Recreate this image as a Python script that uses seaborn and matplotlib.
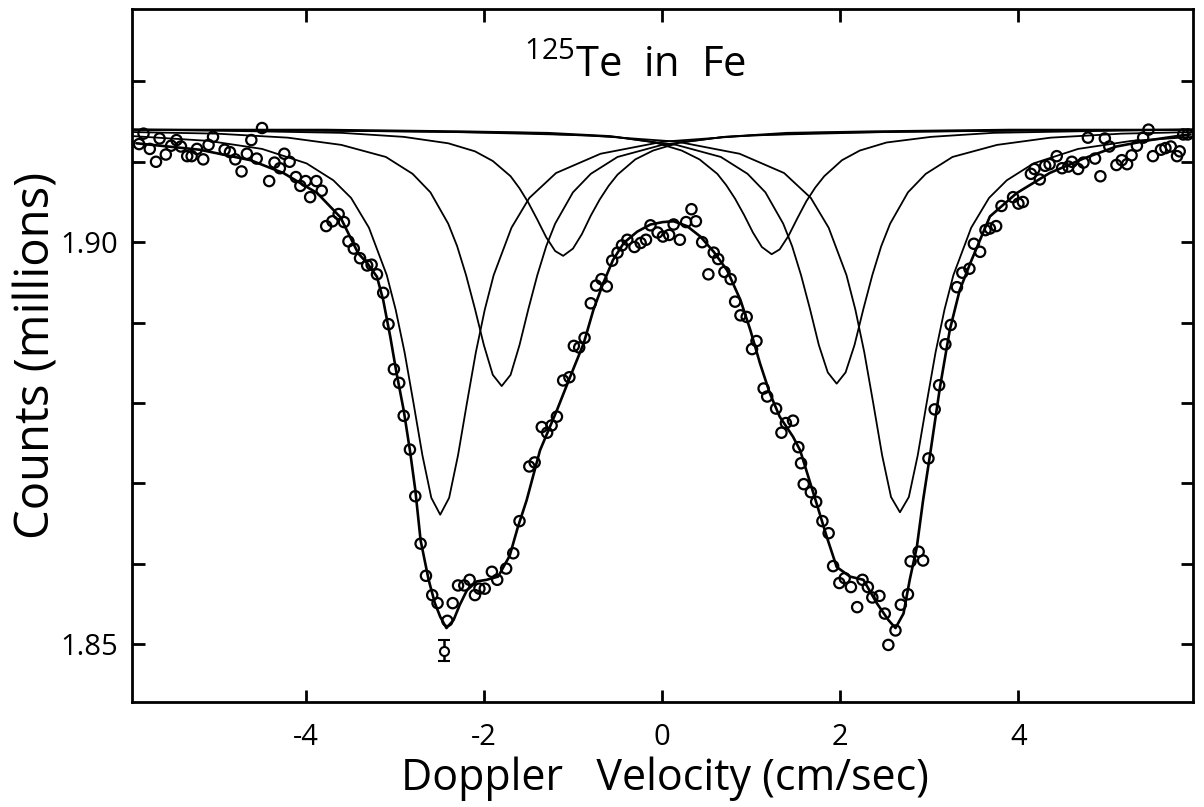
import numpy as np
import pandas as pd
import matplotlib
matplotlib.use("Agg")
import matplotlib.pyplot as plt
import seaborn as sns

# 125Te in Fe -- counts vs doppler velocity
# velocity in cm/sec, counts in millions

vel = [-5.87, -5.82, -5.75, -5.68, -5.64, -5.57, -5.51, -5.45, -5.40, -5.33,
       -5.28, -5.22, -5.15, -5.09, -5.04, -4.91, -4.85, -4.79, -4.72, -4.66,
       -4.61, -4.55, -4.49, -4.41, -4.35, -4.29, -4.24, -4.18, -4.11, -4.06,
       -4.00, -3.95, -3.88, -3.82, -3.77, -3.70, -3.63, -3.57, -3.52, -3.46,
       -3.39, -3.31, -3.26, -3.20, -3.13, -3.07, -3.01, -2.95, -2.90, -2.83,
       -2.77, -2.71, -2.65, -2.58, -2.52, -2.41, -2.35, -2.29, -2.22, -2.16,
       -2.10, -2.05, -1.99, -1.91, -1.85, -1.75, -1.67, -1.60,
       -1.49, -1.43, -1.35, -1.29, -1.24, -1.18, -1.11, -1.04, -0.99, -0.93,
       -0.87, -0.80, -0.74, -0.68, -0.62, -0.56, -0.50, -0.45, -0.39, -0.31,
       -0.24, -0.18, -0.13, -0.05, 0.01, 0.08, 0.13, 0.20, 0.27, 0.33,
       0.38, 0.45, 0.52, 0.58, 0.63, 0.70, 0.77, 0.82, 0.88, 0.95,
       1.01, 1.06, 1.14, 1.18, 1.28, 1.34, 1.39, 1.47, 1.53, 1.56,
       1.59, 1.67, 1.73, 1.80, 1.87, 1.92, 1.99, 2.05, 2.12, 2.19,
       2.25, 2.31, 2.36, 2.44, 2.50, 2.54, 2.62, 2.68, 2.76, 2.79,
       2.88, 2.93, 2.99, 3.06, 3.11, 3.18, 3.24, 3.31, 3.37, 3.45,
       3.50, 3.57, 3.63, 3.68, 3.75, 3.81, 3.94, 4.00, 4.05, 4.14,
       4.18, 4.24, 4.30, 4.35, 4.43, 4.49, 4.56, 4.60, 4.67, 4.73,
       4.78, 4.86, 4.92, 4.97, 5.02, 5.10, 5.16, 5.22, 5.27, 5.33,
       5.40, 5.46, 5.51, 5.60, 5.65, 5.71, 5.78, 5.81, 5.85, 5.90]
counts = [1.9122, 1.9135, 1.9116, 1.9100, 1.9129, 1.9109, 1.9120, 1.9127, 1.9119, 1.9107,
          1.9107, 1.9116, 1.9103, 1.9121, 1.9131, 1.9115, 1.9112, 1.9103, 1.9088, 1.9110,
          1.9127, 1.9104, 1.9142, 1.9076, 1.9099, 1.9092, 1.9110, 1.9100, 1.9081, 1.9070,
          1.9076, 1.9056, 1.9076, 1.9064, 1.9020, 1.9026, 1.9035, 1.9025, 1.9001, 1.8992,
          1.8980, 1.8971, 1.8972, 1.8960, 1.8937, 1.8898, 1.8842, 1.8825, 1.8784, 1.8742,
          1.8684, 1.8625, 1.8585, 1.8561, 1.8551, 1.8529, 1.8551, 1.8573, 1.8573, 1.8580,
          1.8561, 1.8569, 1.8569, 1.8590, 1.8580, 1.8594, 1.8613, 1.8653,
          1.8721, 1.8726, 1.8770, 1.8763, 1.8772, 1.8783, 1.8828, 1.8832, 1.8871, 1.8869,
          1.8881, 1.8924, 1.8946, 1.8954, 1.8945, 1.8977, 1.8987, 1.8996, 1.9003, 1.8994,
          1.8999, 1.9003, 1.9021, 1.9012, 1.9007, 1.9009, 1.9022, 1.9003, 1.9025, 1.9041,
          1.9026, 1.9000, 1.8960, 1.8987, 1.8979, 1.8963, 1.8954, 1.8926, 1.8909, 1.8907,
          1.8867, 1.8877, 1.8818, 1.8808, 1.8793, 1.8763, 1.8775, 1.8778, 1.8745, 1.8725,
          1.8699, 1.8689, 1.8677, 1.8653, 1.8638, 1.8597, 1.8576, 1.8582, 1.8571, 1.8546,
          1.8580, 1.8571, 1.8558, 1.8560, 1.8538, 1.8499, 1.8517, 1.8549, 1.8562, 1.8603,
          1.8615, 1.8604, 1.8731, 1.8792, 1.8822, 1.8873, 1.8897, 1.8944, 1.8962, 1.8967,
          1.8998, 1.8988, 1.9015, 1.9017, 1.9020, 1.9045, 1.9056, 1.9048, 1.9050, 1.9085,
          1.9091, 1.9078, 1.9095, 1.9097, 1.9107, 1.9092, 1.9094, 1.9100, 1.9091, 1.9099,
          1.9130, 1.9104, 1.9082, 1.9129, 1.9119, 1.9096, 1.9102, 1.9097, 1.9108, 1.9120,
          1.9130, 1.9140, 1.9107, 1.9115, 1.9117, 1.9119, 1.9107, 1.9113, 1.9134, 1.9134]

# the one point drawn with its error bar
err_vel = [-2.45]
err_counts = [1.8492]
err_size = [0.0013]

# full fit through the data
fit_vel = [-5.90, -5.19, -4.62, -4.25, -3.87, -3.61, -3.41, -3.31, -3.20, -3.13,
           -3.05, -2.98, -2.90, -2.83, -2.77, -2.71, -2.62, -2.55, -2.49, -2.42,
           -2.34, -2.27, -2.19, -2.08, -1.97, -1.84, -1.71, -1.62, -1.52, -1.37,
           -1.18, -1.03, -0.88, -0.77, -0.66, -0.55, -0.43, -0.28, -0.13, 0.01,
           0.13, 0.28, 0.43, 0.58, 0.73, 0.88, 0.99, 1.10, 1.21, 1.32,
           1.47, 1.55, 1.74, 1.85, 1.96, 2.11, 2.26, 2.41, 2.54, 2.62,
           2.71, 2.78, 2.86, 2.93, 3.01, 3.12, 3.23, 3.34, 3.46, 3.57,
           3.68, 3.98, 4.35, 4.73, 5.10, 5.48, 5.85, 5.93]
fit_counts = [1.9123, 1.9115, 1.9102, 1.9086, 1.9061, 1.9031, 1.8986, 1.8974, 1.8957, 1.8928,
              1.8882, 1.8837, 1.8791, 1.8741, 1.8692, 1.8629, 1.8580, 1.8551, 1.8534, 1.8520,
              1.8530, 1.8549, 1.8567, 1.8578, 1.8580, 1.8584, 1.8610, 1.8645, 1.8679, 1.8741,
              1.8791, 1.8833, 1.8874, 1.8916, 1.8949, 1.8978, 1.8999, 1.9013, 1.9022, 1.9025,
              1.9026, 1.9020, 1.9007, 1.8988, 1.8965, 1.8928, 1.8891, 1.8849, 1.8812, 1.8783,
              1.8758, 1.8741, 1.8673, 1.8633, 1.8596, 1.8584, 1.8580, 1.8551, 1.8530, 1.8520,
              1.8538, 1.8580, 1.8621, 1.8679, 1.8737, 1.8820, 1.8891, 1.8940, 1.8974, 1.9003,
              1.9032, 1.9061, 1.9086, 1.9104, 1.9119, 1.9127, 1.9133, 1.9134]

# six single-line components (inner, middle, outer; left and right)
l1_vel = [-5.95, -4.6, -3.6, -2.9, -2.4, -2.1, -1.9, -1.7, -1.6, -1.5, -1.4, -1.3, -1.2, -1.11,
          -1.0, -0.9, -0.8, -0.7, -0.6, -0.5, -0.3, -0.1, 0.2, 0.7, 1.4, 2.4, 3.9, 5.96]
l1_counts = [1.9140, 1.9138, 1.9136, 1.9131, 1.9123, 1.9113, 1.9101, 1.9082, 1.9067, 1.9049,
             1.9028, 1.9006, 1.8989, 1.8983, 1.8992, 1.9010, 1.9033, 1.9053, 1.9070, 1.9084,
             1.9103, 1.9114, 1.9124, 1.9131, 1.9136, 1.9138, 1.9140, 1.9140]
r1_vel = [5.96, 4.72, 3.72, 3.02, 2.52, 2.22, 2.02, 1.82, 1.72, 1.62, 1.52, 1.42, 1.32, 1.23,
          1.12, 1.02, 0.92, 0.82, 0.72, 0.62, 0.42, 0.22, -0.08, -0.58, -1.28, -2.28, -3.78, -5.95]
r1_counts = [1.9140, 1.9138, 1.9136, 1.9131, 1.9124, 1.9114, 1.9102, 1.9082, 1.9068, 1.9051,
             1.9030, 1.9008, 1.8991, 1.8985, 1.8994, 1.9012, 1.9034, 1.9054, 1.9071, 1.9085,
             1.9103, 1.9114, 1.9124, 1.9132, 1.9136, 1.9138, 1.9140, 1.9140]
l2_vel = [-5.95, -5.0, -4.2, -3.6, -3.1, -2.8, -2.6, -2.4, -2.3, -2.2, -2.1, -2.0, -1.9, -1.8,
          -1.7, -1.6, -1.5, -1.4, -1.3, -1.2, -1.0, -0.8, -0.5, 0.0, 0.7, 1.7, 3.2, 5.96]
l2_counts = [1.9137, 1.9135, 1.9130, 1.9121, 1.9106, 1.9085, 1.9062, 1.9023, 1.8995, 1.8959,
             1.8917, 1.8872, 1.8835, 1.8821, 1.8835, 1.8872, 1.8917, 1.8959, 1.8995, 1.9023,
             1.9062, 1.9085, 1.9106, 1.9121, 1.9131, 1.9136, 1.9138, 1.9140]
r2_vel = [5.96, 5.16, 4.36, 3.76, 3.26, 2.96, 2.76, 2.56, 2.46, 2.36, 2.26, 2.16, 2.06, 1.96,
          1.86, 1.76, 1.66, 1.56, 1.46, 1.36, 1.16, 0.96, 0.66, 0.16, -0.54, -1.54, -3.04, -5.95]
r2_counts = [1.9137, 1.9135, 1.9130, 1.9121, 1.9106, 1.9085, 1.9062, 1.9023, 1.8995, 1.8959,
             1.8917, 1.8872, 1.8838, 1.8824, 1.8838, 1.8872, 1.8917, 1.8959, 1.8995, 1.9023,
             1.9062, 1.9085, 1.9106, 1.9121, 1.9131, 1.9136, 1.9138, 1.9140]
l3_vel = [-5.95, -5.09, -4.49, -3.99, -3.69, -3.49, -3.29, -3.09, -2.99, -2.89, -2.79, -2.69,
          -2.59, -2.49, -2.39, -2.29, -2.19, -2.09, -1.99, -1.89, -1.69, -1.49, -1.19, -0.69,
          0.01, 1.01, 2.51, 4.01, 5.96]
l3_counts = [1.9132, 1.9126, 1.9116, 1.9098, 1.9077, 1.9055, 1.9018, 1.8959, 1.8916, 1.8863,
             1.8800, 1.8735, 1.8682, 1.8661, 1.8682, 1.8735, 1.8800, 1.8863, 1.8916, 1.8959,
             1.9018, 1.9055, 1.9086, 1.9110, 1.9125, 1.9133, 1.9137, 1.9139, 1.9140]
r3_vel = [5.96, 5.27, 4.67, 4.17, 3.87, 3.67, 3.47, 3.27, 3.17, 3.07, 2.97, 2.87,
          2.77, 2.67, 2.57, 2.47, 2.37, 2.27, 2.17, 2.07, 1.87, 1.67, 1.37, 0.87,
          0.17, -0.83, -2.33, -3.83, -5.95]
r3_counts = [1.9131, 1.9126, 1.9116, 1.9098, 1.9077, 1.9055, 1.9018, 1.8959, 1.8916, 1.8863,
             1.8800, 1.8735, 1.8683, 1.8664, 1.8683, 1.8735, 1.8800, 1.8863, 1.8916, 1.8959,
             1.9018, 1.9055, 1.9086, 1.9110, 1.9125, 1.9133, 1.9137, 1.9139, 1.9140]

x_ticks = [-4, -2, 0, 2, 4]
x_labels = ["-4", "-2", "0", "2", "4"]
y_ticks = [1.85, 1.86, 1.87, 1.88, 1.89, 1.90, 1.91, 1.92]
y_labels = ["1.85", "", "", "", "", "1.90", "", ""]

sns.set_theme(style="ticks")
plt.rcParams["font.family"] = ["Open Sans", "DejaVu Sans"]
plt.rcParams["font.weight"] = "normal"
plt.rcParams["mathtext.default"] = "regular"
plt.rcParams["axes.unicode_minus"] = False
plt.rcParams["text.color"] = "black"
plt.rcParams["axes.labelcolor"] = "black"

fig = plt.figure(figsize=(12.04, 8.07), dpi=100)
ax = fig.add_axes([0.1096, 0.1301, 0.8813, 0.8587])

components = [(l1_vel, l1_counts), (r1_vel, r1_counts), (l2_vel, l2_counts),
              (r2_vel, r2_counts), (l3_vel, l3_counts), (r3_vel, r3_counts)]
for cv, cc in components:
    comp = pd.DataFrame({"v": cv, "c": cc})
    sns.lineplot(data=comp, x="v", y="c", sort=False, estimator=None,
                 color="black", lw=1.3, ax=ax)

fit = pd.DataFrame({"v": fit_vel, "c": fit_counts})
sns.lineplot(data=fit, x="v", y="c", sort=False, estimator=None,
             color="black", lw=1.9, ax=ax)

pts = pd.DataFrame({"v": vel, "c": counts})
sns.scatterplot(data=pts, x="v", y="c", marker="o", s=55,
                facecolor="none", edgecolor="black", linewidth=1.6, ax=ax, zorder=3)

ax.errorbar(err_vel, err_counts, yerr=err_size, fmt="o", ms=6.5, mfc="white",
            mec="black", mew=1.5, ecolor="black", elinewidth=1.8, capsize=4, capthick=1.8)

ax.set_xlim(-5.95, 5.96)
ax.set_ylim(1.8428, 1.9290)
ax.set_xticks(x_ticks)
ax.set_xticklabels(x_labels)
ax.set_yticks(y_ticks)
ax.set_yticklabels(y_labels)

for sp in ax.spines.values():
    sp.set_visible(True)
    sp.set_linewidth(2.0)
    sp.set_color("black")

ax.tick_params(axis="both", direction="in", length=9, width=2.0, color="black",
               top=True, right=True, labelsize=21, labelcolor="black")
ax.tick_params(axis="x", pad=15)
ax.tick_params(axis="y", pad=10)

ax.set_xlabel("Doppler   Velocity (cm/sec)", fontsize=31, color="black")
ax.set_ylabel("Counts (millions)", fontsize=34, color="black")
ax.xaxis.set_label_coords(0.502, -0.078)
ax.yaxis.set_label_coords(-0.067, 0.5)

ax.text(-0.3, 1.9205, r"$^{125}$Te  in  Fe", fontsize=30, ha="center", va="baseline",
        color="black")

fig.savefig("out.png", dpi=100, facecolor="white")
